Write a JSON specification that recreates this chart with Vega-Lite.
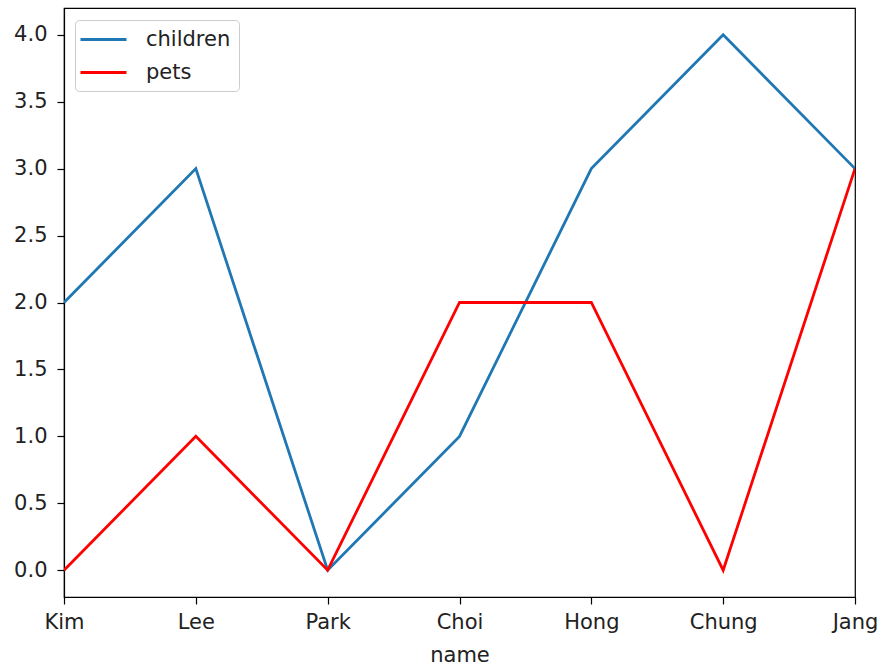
{
  "$schema": "https://vega.github.io/schema/vega-lite/v6.json",
  "width": 791,
  "height": 589,
  "autosize": {"type": "none"},
  "padding": {"left": 64, "top": 8, "right": 25, "bottom": 68},
  "background": "white",
  "config": {
    "font": "DejaVu Sans",
    "view": {"stroke": "black", "strokeWidth": 1.2},
    "axis": {
      "grid": false,
      "domainColor": "black",
      "domainWidth": 1.2,
      "tickColor": "black",
      "tickSize": 7,
      "tickWidth": 1.2,
      "labelFont": "DejaVu Sans",
      "labelFontSize": 21,
      "labelColor": "#222222",
      "titleFont": "DejaVu Sans",
      "titleFontSize": 21,
      "titleFontWeight": "normal",
      "titleColor": "#222222"
    }
  },
  "data": {
    "values": [
      {"name": "Kim", "variable": "children", "value": 2},
      {"name": "Lee", "variable": "children", "value": 3},
      {"name": "Park", "variable": "children", "value": 0},
      {"name": "Choi", "variable": "children", "value": 1},
      {"name": "Hong", "variable": "children", "value": 3},
      {"name": "Chung", "variable": "children", "value": 4},
      {"name": "Jang", "variable": "children", "value": 3},
      {"name": "Kim", "variable": "pets", "value": 0},
      {"name": "Lee", "variable": "pets", "value": 1},
      {"name": "Park", "variable": "pets", "value": 0},
      {"name": "Choi", "variable": "pets", "value": 2},
      {"name": "Hong", "variable": "pets", "value": 2},
      {"name": "Chung", "variable": "pets", "value": 0},
      {"name": "Jang", "variable": "pets", "value": 3}
    ]
  },
  "mark": {"type": "line", "strokeWidth": 2.8, "clip": true},
  "encoding": {
    "x": {
      "field": "name",
      "type": "ordinal",
      "sort": ["Kim", "Lee", "Park", "Choi", "Hong", "Chung", "Jang"],
      "scale": {"type": "point", "padding": 0},
      "axis": {"labelAngle": 0, "labelPadding": 7, "title": "name", "titlePadding": 12}
    },
    "y": {
      "field": "value",
      "type": "quantitative",
      "scale": {"domain": [-0.2, 4.2], "nice": false, "zero": false},
      "axis": {"values": [0, 0.5, 1, 1.5, 2, 2.5, 3, 3.5, 4], "format": ".1f", "labelPadding": 10, "title": null}
    },
    "color": {
      "field": "variable",
      "type": "nominal",
      "scale": {"domain": ["children", "pets"], "range": ["#1f77b4", "#ff0000"]},
      "legend": {
        "title": null,
        "orient": "none",
        "legendX": 11,
        "legendY": 12,
        "symbolType": "M-2.3,0H2.3",
        "symbolSize": 400,
        "symbolStrokeWidth": 3,
        "symbolOffset": 9,
        "labelFont": "DejaVu Sans",
        "labelFontSize": 21,
        "labelColor": "#222222",
        "labelOffset": 31,
        "rowPadding": 11,
        "padding": 8,
        "offset": 0,
        "strokeColor": "#cccccc",
        "fillColor": "white",
        "cornerRadius": 4
      }
    }
  }
}
